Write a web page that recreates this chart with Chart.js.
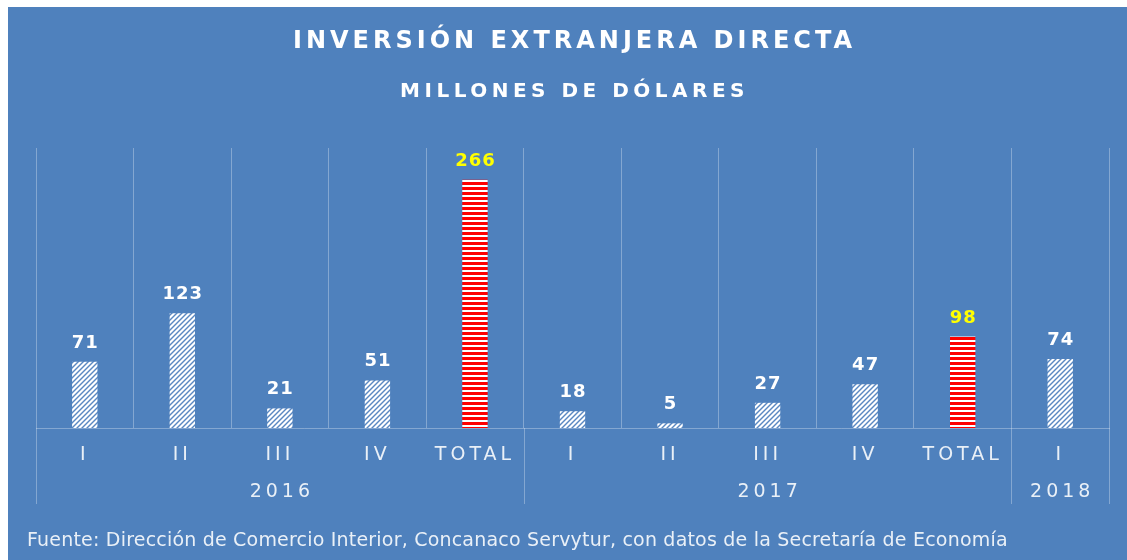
<!DOCTYPE html>
<html>
<head>
<meta charset="utf-8">
<script src="https://cdn.jsdelivr.net/npm/chart.js@4/dist/chart.umd.min.js"></script>
<style>
  body { margin: 0; background: #fff; }
  #wrap { position: absolute; left: 8px; top: 7px; width: 1119px; height: 553px; background: #4f81bd; }
</style>
</head>
<body>
<div id="wrap"><canvas id="ied"></canvas></div>
<script>
// data
const quarters = ['I', 'II', 'III', 'IV', 'TOTAL', 'I', 'II', 'III', 'IV', 'TOTAL', 'I'];
const years = ['2016', '2017', '2018'];
const yearSpans = [5, 5, 1];
const values = [71, 123, 21, 51, 266, 18, 5, 27, 47, 98, 74];
const titleText = 'INVERSIÓN EXTRANJERA DIRECTA';
const subtitleText = 'MILLONES DE DÓLARES';
const sourceText = 'Fuente: Dirección de Comercio Interior, Concanaco Servytur, con datos de la Secretaría de Economía';

const family = '"DejaVu Sans", Verdana, sans-serif';
const gridColor = 'rgba(255,255,255,0.3)';
const textColor = 'rgba(255,255,255,0.88)';

// white bars with blue upward diagonal hatch
function hatchPattern() {
    const c = document.createElement('canvas');
    const n = 5;
    c.width = n; c.height = n;
    const g = c.getContext('2d');
    g.fillStyle = '#ffffff';
    g.fillRect(0, 0, n, n);
    g.strokeStyle = '#5a88c2';
    g.lineWidth = 1.4;
    [[0, n, n, 0], [-1, 1, 1, -1], [n - 1, n + 1, n + 1, n - 1]].forEach(function (l) {
        g.beginPath();
        g.moveTo(l[0], l[1]);
        g.lineTo(l[2], l[3]);
        g.stroke();
    });
    return g.createPattern(c, 'repeat');
}

// red / white horizontal stripes for the totals
function stripePattern() {
    const c = document.createElement('canvas');
    c.width = 4; c.height = 5;
    const g = c.getContext('2d');
    g.fillStyle = '#ffffff';
    g.fillRect(0, 0, 4, 5);
    g.fillStyle = '#ff0000';
    g.fillRect(0, 0, 4, 3);
    return g.createPattern(c, 'repeat');
}

const hatch = hatchPattern();
const stripes = stripePattern();

const decorPlugin = {
    id: 'decor',
    beforeDraw(chart) {
        // spaced out tick labels like the original
        chart.ctx.letterSpacing = '4px';
    },
    afterDatasetsDraw(chart) {
        const ctx = chart.ctx;
        const meta = chart.getDatasetMeta(0);
        ctx.save();
        ctx.letterSpacing = '1px';
        ctx.font = 'bold 18px ' + family;
        ctx.textAlign = 'center';
        ctx.textBaseline = 'alphabetic';
        meta.data.forEach(function (bar, i) {
            ctx.fillStyle = quarters[i] === 'TOTAL' ? '#ffff00' : '#ffffff';
            ctx.fillText(String(values[i]), bar.x + 0.5, bar.y - 14);
        });
        ctx.restore();
    },
    afterDraw(chart) {
        const ctx = chart.ctx;
        const area = chart.chartArea;
        const x = chart.scales.x;
        const cx = (area.left + area.right) / 2;
        ctx.save();
        ctx.textAlign = 'center';
        ctx.textBaseline = 'middle';
        ctx.fillStyle = '#ffffff';

        // titles
        ctx.letterSpacing = '4px';
        ctx.font = 'bold 24px ' + family;
        ctx.fillText(titleText, cx + 2, 35);
        ctx.letterSpacing = '4.5px';
        ctx.font = 'bold 20px ' + family;
        ctx.fillText(subtitleText, cx + 2, 85);

        // year groups under the quarters
        ctx.strokeStyle = gridColor;
        ctx.lineWidth = 1;
        ctx.fillStyle = textColor;
        ctx.letterSpacing = '4px';
        ctx.font = '19px ' + family;
        let start = 0;
        const bounds = [0];
        yearSpans.forEach(function (n, k) {
            const left = x.getPixelForValue(start - 0.5);
            const right = x.getPixelForValue(start + n - 0.5);
            ctx.fillText(years[k], (left + right) / 2 + 2, area.bottom + 64);
            start += n;
            bounds.push(start);
        });
        bounds.forEach(function (b) {
            const px = Math.round(x.getPixelForValue(b - 0.5)) + 0.5;
            ctx.beginPath();
            ctx.moveTo(px, area.bottom);
            ctx.lineTo(px, area.bottom + 76);
            ctx.stroke();
        });

        // source note
        ctx.letterSpacing = '0.2px';
        ctx.textAlign = 'left';
        ctx.font = '19px ' + family;
        ctx.fillText(sourceText, 19, 534);
        ctx.restore();
        ctx.letterSpacing = '0px';
    }
};

const config = {
    type: 'bar',
    data: {
        labels: quarters,
        datasets: [{
            data: values,
            backgroundColor: quarters.map(function (q) { return q === 'TOTAL' ? stripes : hatch; }),
            borderWidth: 0,
            barPercentage: 0.26,
            categoryPercentage: 1
        }]
    },
    options: {
        responsive: true,
        maintainAspectRatio: false,
        animation: false,
        layout: { padding: { left: 28, right: 18, top: 141, bottom: 0 } },
        plugins: {
            legend: { display: false },
            tooltip: { enabled: false },
            title: { display: false }
        },
        scales: {
            x: {
                offset: true,
                grid: { offset: true, color: gridColor, drawTicks: false },
                border: { color: gridColor },
                ticks: {
                    color: textColor,
                    font: { family: family, size: 19 },
                    padding: 16,
                    autoSkip: false,
                    maxRotation: 0
                },
                afterFit: function (s) { s.height = 132; }
            },
            y: { display: false, min: 0, max: 300 }
        }
    },
    plugins: [decorPlugin]
};

const ctx = document.getElementById('ied').getContext('2d');
const chart = new Chart(ctx, config);
</script>
</body>
</html>
